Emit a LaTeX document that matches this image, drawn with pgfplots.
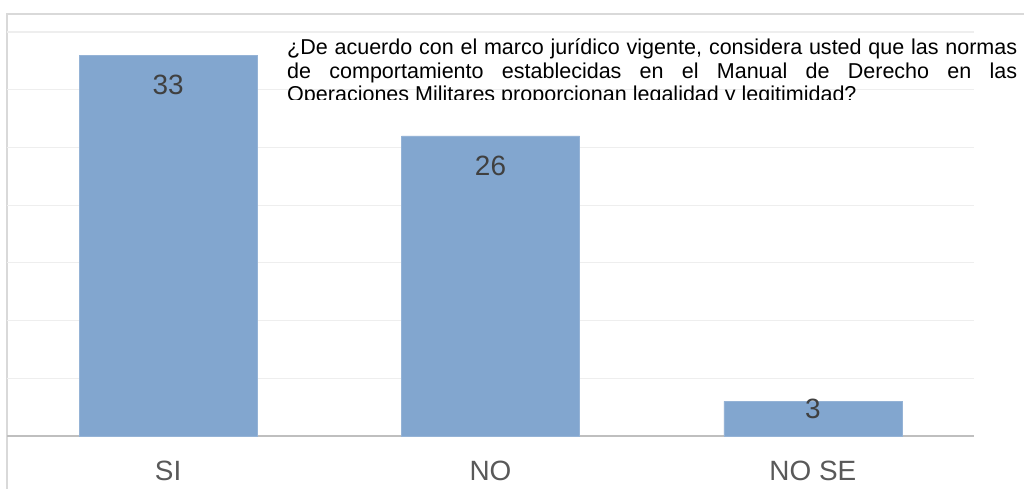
\documentclass[border=0pt]{standalone}
\usepackage{pgfplots}
\pgfplotsset{compat=1.18}
\usepackage{fontspec}
\setmainfont{Liberation Sans}
\definecolor{barcol}{HTML}{82A6CF}
\definecolor{gridcol}{HTML}{EEEEEE}
\definecolor{basecol}{HTML}{BFBFBF}
\definecolor{framecol}{HTML}{D9D9D9}
\definecolor{labcol}{HTML}{404040}
\definecolor{tickcol}{HTML}{595959}
\begin{document}
\begin{tikzpicture}[x=1bp,y=1bp]
\useasboundingbox (0,0) rectangle (1024,489);
\fill[white] (0,0) rectangle (1024,489);
\draw[framecol, line width=2bp] (7,-2) -- (7,475) -- (1026,475);
\begin{axis}[
  at={(7bp,53bp)}, anchor=south west,
  scale only axis, width=967bp, height=404bp,
  xmin=-0.5, xmax=2.5, ymin=0, ymax=35,
  axis line style={draw=none},
  ytick={5,10,15,20,25,30,35}, yticklabels={},
  ymajorgrids, grid style={gridcol, line width=1.2bp},
  major tick length=0pt,
  extra y ticks={0}, extra y tick labels={},
  extra y tick style={grid style={basecol, line width=2.5bp}},
  xtick={0,1,2}, xticklabels={SI,NO,NO SE},
  xticklabel style={font=\fontsize{28}{30}\selectfont, text=tickcol, yshift=-22bp},
  clip=false,
]
\addplot[ybar, bar width=178bp, fill=barcol, draw=barcol!85!white, line width=0.6bp]
  coordinates {(0,33) (1,26) (2,3)};
\addplot[draw=none, nodes near coords, point meta=explicit symbolic,
  every node near coord/.append style={anchor=center, font=\fontsize{28}{30}\selectfont, text=labcol, inner sep=0pt}]
  table[meta=lab] {
x y lab
0 30.41 33
1 23.43 26
2 2.38 3
};
\end{axis}
\begin{scope}
\clip (280,389) rectangle (1024,489);
\node[anchor=base west, inner sep=0pt] at (287,434) {\parbox[t]{730bp}{\fontsize{21.6}{23.5}\selectfont ¿De acuerdo con el marco jurídico vigente, considera usted que las normas\linebreak de comportamiento establecidas en el Manual de Derecho en las\linebreak Operaciones Militares proporcionan legalidad y legitimidad?}};
\end{scope}
\end{tikzpicture}
\end{document}
